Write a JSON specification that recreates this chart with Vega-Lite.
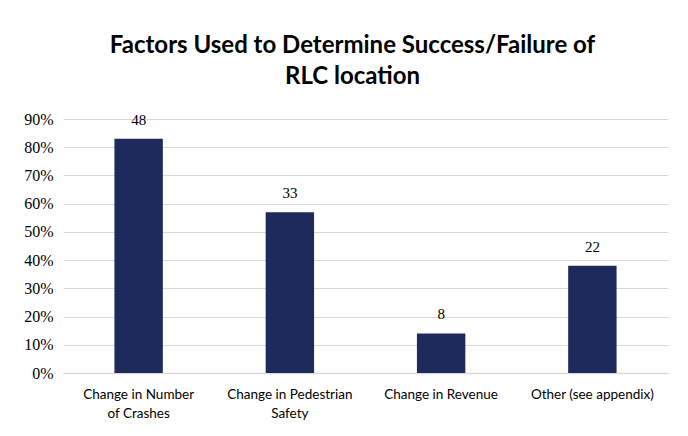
{
  "$schema": "https://vega.github.io/schema/vega-lite/v6.json",
  "width": 605,
  "height": 254,
  "autosize": {"type": "none"},
  "padding": {"left": 63, "top": 119, "right": 20, "bottom": 63},
  "background": "white",
  "config": {"view": {"stroke": null}},
  "title": {
    "text": ["Factors Used to Determine Success/Failure of", "RLC location"],
    "font": "Lato",
    "fontSize": 24,
    "fontWeight": "bold",
    "color": "#000000",
    "lineHeight": 31,
    "anchor": "middle",
    "dx": -13,
    "offset": 22
  },
  "data": {
    "values": [
      {"factor": "Change in Number|of Crashes", "pct": 0.83, "count": 48},
      {"factor": "Change in Pedestrian|Safety", "pct": 0.57, "count": 33},
      {"factor": "Change in Revenue", "pct": 0.14, "count": 8},
      {"factor": "Other (see appendix)", "pct": 0.38, "count": 22}
    ]
  },
  "encoding": {
    "x": {
      "field": "factor",
      "type": "nominal",
      "sort": null,
      "scale": {"paddingInner": 0.68, "paddingOuter": 0.34},
      "axis": {
        "title": null,
        "labelAngle": 0,
        "labelExpr": "split(datum.value, '|')",
        "labelFont": "Lato",
        "labelFontSize": 13.5,
        "labelColor": "#000000",
        "labelPadding": 14,
        "labelLineHeight": 19,
        "ticks": false,
        "domainColor": "#d9d9d9",
        "domainWidth": 1.5
      }
    },
    "y": {
      "field": "pct",
      "type": "quantitative",
      "scale": {"domain": [0, 0.9]},
      "axis": {
        "title": null,
        "format": ".0%",
        "values": [0, 0.1, 0.2, 0.3, 0.4, 0.5, 0.6, 0.7, 0.8, 0.9],
        "labelFont": "Liberation Serif",
        "labelFontSize": 16,
        "labelColor": "#000000",
        "labelPadding": 10,
        "ticks": false,
        "domain": false,
        "gridColor": "#d9d9d9",
        "gridWidth": 1.2
      }
    }
  },
  "layer": [
    {"mark": {"type": "bar", "color": "#1F2A5C"}},
    {
      "mark": {"type": "text", "dy": -19, "font": "Liberation Serif", "fontSize": 15, "color": "#000000"},
      "encoding": {"text": {"field": "count", "type": "quantitative"}}
    }
  ]
}
